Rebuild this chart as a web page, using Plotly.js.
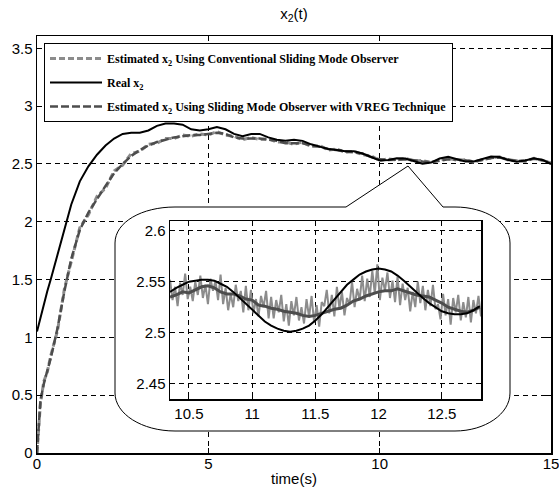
<!DOCTYPE html>
<html><head><meta charset="utf-8">
<script src="https://cdn.plot.ly/plotly-3.0.1.min.js"></script>
<style>html,body{margin:0;padding:0;background:#fff}#chart{width:559px;height:495px}</style>
</head><body><div id="chart"></div>
<script>
// ---------- main plot data ----------
const tMain = [0,0.05,0.1,0.2,0.3,0.4,0.6,0.8,
  1.0,1.25,1.5,1.75,2.0,2.25,2.5,2.75,3.0,3.25,3.5,3.75,4.0,4.25,4.5,4.75,5.0,5.25,5.5,5.75,
  6.0,6.25,6.5,6.75,7.0,7.25,7.5,7.75,8.0,8.25,8.5,8.75,9.0,9.25,9.5,9.75,10.0,10.25,10.5,10.75,
  11.0,11.25,11.5,11.75,12.0,12.25,12.5,12.75,13.0,13.25,13.5,13.75,14.0,14.25,14.5,14.75,15.0];
const realMain = [1.05,1.11,1.18,1.30,1.40,1.50,1.72,1.95,
  2.15,2.35,2.48,2.58,2.66,2.72,2.76,2.77,2.77,2.79,2.83,2.85,2.85,2.84,2.80,2.79,2.80,2.82,2.80,2.76,
  2.74,2.76,2.76,2.73,2.71,2.70,2.71,2.70,2.67,2.65,2.63,2.62,2.61,2.61,2.59,2.56,2.53,2.535,2.550,2.548,
  2.522,2.502,2.512,2.547,2.563,2.545,2.521,2.522,2.545,2.565,2.560,2.535,2.520,2.530,2.550,2.535,2.50];
const convMain = [0.0,0.25,0.43,0.62,0.70,0.84,1.06,1.42,
  1.66,1.95,2.06,2.22,2.29,2.44,2.49,2.59,2.61,2.67,2.68,2.72,2.72,2.75,2.74,2.76,2.75,2.78,2.75,2.74,
  2.71,2.73,2.71,2.72,2.69,2.69,2.67,2.69,2.65,2.66,2.62,2.63,2.60,2.61,2.58,2.57,2.53,2.545,2.535,2.550,
  2.525,2.530,2.512,2.535,2.548,2.532,2.536,2.515,2.540,2.548,2.562,2.535,2.530,2.522,2.550,2.530,2.51];
const vregMain = [0.0,0.22,0.45,0.60,0.71,0.82,1.08,1.40,
  1.68,1.93,2.08,2.20,2.31,2.42,2.50,2.57,2.62,2.66,2.69,2.71,2.73,2.74,2.75,2.75,2.76,2.77,2.76,2.73,
  2.72,2.72,2.72,2.71,2.70,2.68,2.68,2.68,2.66,2.65,2.63,2.62,2.61,2.60,2.59,2.56,2.54,2.535,2.540,2.540,
  2.532,2.521,2.517,2.527,2.540,2.539,2.529,2.522,2.535,2.552,2.555,2.540,2.525,2.530,2.545,2.535,2.505];

// ---------- zoomed inset data ----------
const tZoom = [10.35,10.40,10.45,10.50,10.55,10.60,10.65,10.70,10.75,10.80,10.85,10.90,10.95,11.00,
  11.05,11.10,11.15,11.20,11.25,11.30,11.35,11.40,11.45,11.50,11.55,11.60,11.65,11.70,11.75,11.80,
  11.85,11.90,11.95,12.00,12.05,12.10,12.15,12.20,12.25,12.30,12.35,12.40,12.45,12.50,12.55,12.60,
  12.65,12.70,12.75,12.80];
const realZoom = [2.540,2.544,2.547,2.550,2.551,2.552,2.552,2.551,2.548,2.545,2.540,2.534,2.528,2.522,
  2.516,2.511,2.507,2.504,2.502,2.501,2.502,2.504,2.507,2.512,2.518,2.525,2.533,2.540,2.547,2.552,
  2.557,2.560,2.562,2.563,2.562,2.560,2.556,2.551,2.545,2.540,2.534,2.529,2.525,2.521,2.519,2.518,
  2.518,2.519,2.522,2.526];
const vregZoom = [2.535,2.537,2.540,2.539,2.542,2.545,2.546,2.544,2.540,2.538,2.538,2.536,2.533,2.532,
  2.527,2.526,2.524,2.523,2.521,2.520,2.519,2.517,2.516,2.517,2.519,2.521,2.523,2.524,2.527,2.531,
  2.533,2.536,2.538,2.540,2.541,2.541,2.543,2.541,2.539,2.537,2.536,2.535,2.532,2.529,2.525,2.523,
  2.521,2.520,2.522,2.525];
const tZoomConv = [10.35,10.37,10.39,10.41,10.43,10.45,10.47,10.49,10.51,10.53,10.55,10.57,10.59,10.61,
  10.63,10.65,10.67,10.69,10.71,10.73,10.75,10.77,10.79,10.81,10.83,10.85,10.87,10.89,10.91,10.93,
  10.95,10.97,10.99,11.01,11.03,11.05,11.07,11.09,11.11,11.13,11.15,11.17,11.19,11.21,11.23,11.25,
  11.27,11.29,11.31,11.33,11.35,11.37,11.39,11.41,11.43,11.45,11.47,11.49,11.51,11.53,11.55,11.57,
  11.59,11.61,11.63,11.65,11.67,11.69,11.71,11.73,11.75,11.77,11.79,11.81,11.83,11.85,11.87,11.89,
  11.91,11.93,11.95,11.97,11.99,12.01,12.03,12.05,12.07,12.09,12.11,12.13,12.15,12.17,12.19,12.21,
  12.23,12.25,12.27,12.29,12.31,12.33,12.35,12.37,12.39,12.41,12.43,12.45,12.47,12.49,12.51,12.53,
  12.55,12.57,12.59,12.61,12.63,12.65,12.67,12.69,12.71,12.73,12.75,12.77,12.79,12.81];
const convZoom = [2.552,2.532,2.545,2.526,2.549,2.537,2.558,2.533,2.545,2.531,2.550,2.537,2.556,2.534,
  2.547,2.528,2.553,2.541,2.551,2.532,2.557,2.528,2.544,2.522,2.538,2.525,2.547,2.531,2.541,2.520,
  2.546,2.522,2.542,2.519,2.533,2.516,2.536,2.525,2.541,2.514,2.535,2.514,2.532,2.520,2.537,2.511,
  2.528,2.507,2.531,2.517,2.535,2.512,2.525,2.509,2.533,2.515,2.536,2.510,2.527,2.506,2.530,2.526,
  2.542,2.519,2.537,2.516,2.545,2.524,2.540,2.517,2.534,2.528,2.550,2.525,2.543,2.532,2.556,2.531,
  2.553,2.535,2.561,2.538,2.567,2.532,2.554,2.541,2.559,2.534,2.551,2.530,2.555,2.527,2.548,2.532,
  2.544,2.521,2.540,2.525,2.550,2.529,2.546,2.522,2.542,2.526,2.547,2.523,2.528,2.513,2.538,2.517,
  2.533,2.508,2.534,2.520,2.537,2.512,2.530,2.515,2.535,2.510,2.532,2.519,2.536,2.516];

// ---------- labels / ticks ----------
const legendNames = [
  'Estimated x<sub>2</sub> Using Conventional Sliding Mode Observer',
  'Real x<sub>2</sub>',
  'Estimated x<sub>2</sub> Using Sliding Mode Observer with VREG Technique'];
const mainXTicks = [0,5,10,15];
const mainYTicks = [0,0.5,1,1.5,2,2.5,3,3.5];
const zoomXTicks = [10.5,11,11.5,12,12.5];
const zoomYTicks = [2.45,2.5,2.55,2.6];
const titleText = 'x<sub>2</sub>(t)';
const xTitleText = 'time(s)';

// ---------- layout geometry (pixels) ----------
const W = 559, H = 495;
const PL = 37, PR = 551, PT = 36, PB = 453;
const pw = PR - PL, ph = PB - PT;
const fx = p => (p - PL) / pw;
const fy = p => (PB - p) / ph;

const LIGHT = '#8c8c8c', DARK = '#4d4d4d';
const sans = 'Arial, "Liberation Sans", sans-serif';
const serif = '"Times New Roman", "Liberation Serif", serif';

const traces = [
  {x: tMain, y: convMain, name: legendNames[0], legendgroup: 'a', legendrank: 1, mode: 'lines',
   line: {color: LIGHT, width: 3, dash: '6px,3px'}},
  {x: tMain, y: vregMain, name: legendNames[2], legendgroup: 'c', legendrank: 3, mode: 'lines',
   line: {color: DARK, width: 2.5, dash: '8px,3px'}},
  {x: tMain, y: realMain, name: legendNames[1], legendgroup: 'b', legendrank: 2, mode: 'lines',
   line: {color: '#000', width: 2}},
  // helper pixel-space subplot for the call-out balloon
  {x: [], y: [], xaxis: 'x2', yaxis: 'y2', showlegend: false, hoverinfo: 'skip', mode: 'lines'},
  // inset
  {x: tZoomConv, y: convZoom, xaxis: 'x3', yaxis: 'y3', showlegend: false, mode: 'lines',
   line: {color: LIGHT, width: 2}},
  {x: tZoom, y: vregZoom, xaxis: 'x3', yaxis: 'y3', showlegend: false, mode: 'lines',
   line: {color: DARK, width: 3}},
  {x: tZoom, y: realZoom, xaxis: 'x3', yaxis: 'y3', showlegend: false, mode: 'lines', line: {color: '#000', width: 2}}
];

const gridCommon = {showgrid: true, gridcolor: '#000', griddash: '5px,4px', gridwidth: 1,
  zeroline: false, showline: true, linecolor: '#000', linewidth: 1.5, mirror: 'ticks',
  ticks: 'inside', ticklen: 5, tickcolor: '#000', ticklabeloverflow: 'allow',
  tickfont: {family: sans, size: 15, color: '#000'}};

const balloon = 'M175,207 L346,207 L408,166 L443,207 L455,207 C485,207 510,222 510,243 ' +
  'L510,393 C510,414 485,431 455,431 L175,431 C142,431 115,414 115,393 ' +
  'L115,243 C115,222 142,207 175,207 Z';

const layout = {
  width: W, height: H,
  margin: {l: PL, r: W - PR, t: PT, b: H - PB, pad: 0},
  paper_bgcolor: '#fff', plot_bgcolor: 'rgba(0,0,0,0)',
  showlegend: true,
  title: {text: titleText, font: {family: sans, size: 15, color: '#000'},
          x: 0.5, xref: 'paper', xanchor: 'center', y: 1 - 14 / H, yref: 'container', yanchor: 'middle'},
  xaxis: Object.assign({}, gridCommon, {range: [0, 15], tickvals: mainXTicks, ticktext: mainXTicks.map(String),
    ticklabelstandoff: -4,
    title: {text: xTitleText, font: {family: sans, size: 15, color: '#000'}, standoff: 3}, automargin: false}),
  yaxis: Object.assign({}, gridCommon, {range: [0, 3.607], tickvals: mainYTicks, ticktext: mainYTicks.map(String), automargin: false}),
  xaxis2: {domain: [0, 1], anchor: 'y2', range: [PL, PR], visible: false, fixedrange: true},
  yaxis2: {domain: [0, 1], anchor: 'x2', range: [PB, PT], visible: false, fixedrange: true},
  xaxis3: Object.assign({}, gridCommon, {domain: [fx(170), fx(481)], anchor: 'y3', range: [10.35, 12.81],
    tickvals: zoomXTicks, ticktext: zoomXTicks.map(String), automargin: false}),
  yaxis3: Object.assign({}, gridCommon, {domain: [fy(399), fy(221)], anchor: 'x3', range: [2.435, 2.6095],
    tickvals: zoomYTicks, ticktext: zoomYTicks.map(String), automargin: false}),
  shapes: [{type: 'path', xref: 'x2', yref: 'y2', layer: 'below', path: balloon,
    line: {color: '#000', width: 1}, fillcolor: '#fff'}],
  legend: {x: fx(44), y: fy(43), xanchor: 'left', yanchor: 'top', bgcolor: '#fff',
    bordercolor: '#000', borderwidth: 1, itemwidth: 52, tracegroupgap: 5, traceorder: 'grouped',
    font: {family: serif, size: 12, color: '#000', weight: 'bold'}}
};

Plotly.newPlot('chart', traces, layout, {displayModeBar: false, staticPlot: true});
</script>
</body></html>
